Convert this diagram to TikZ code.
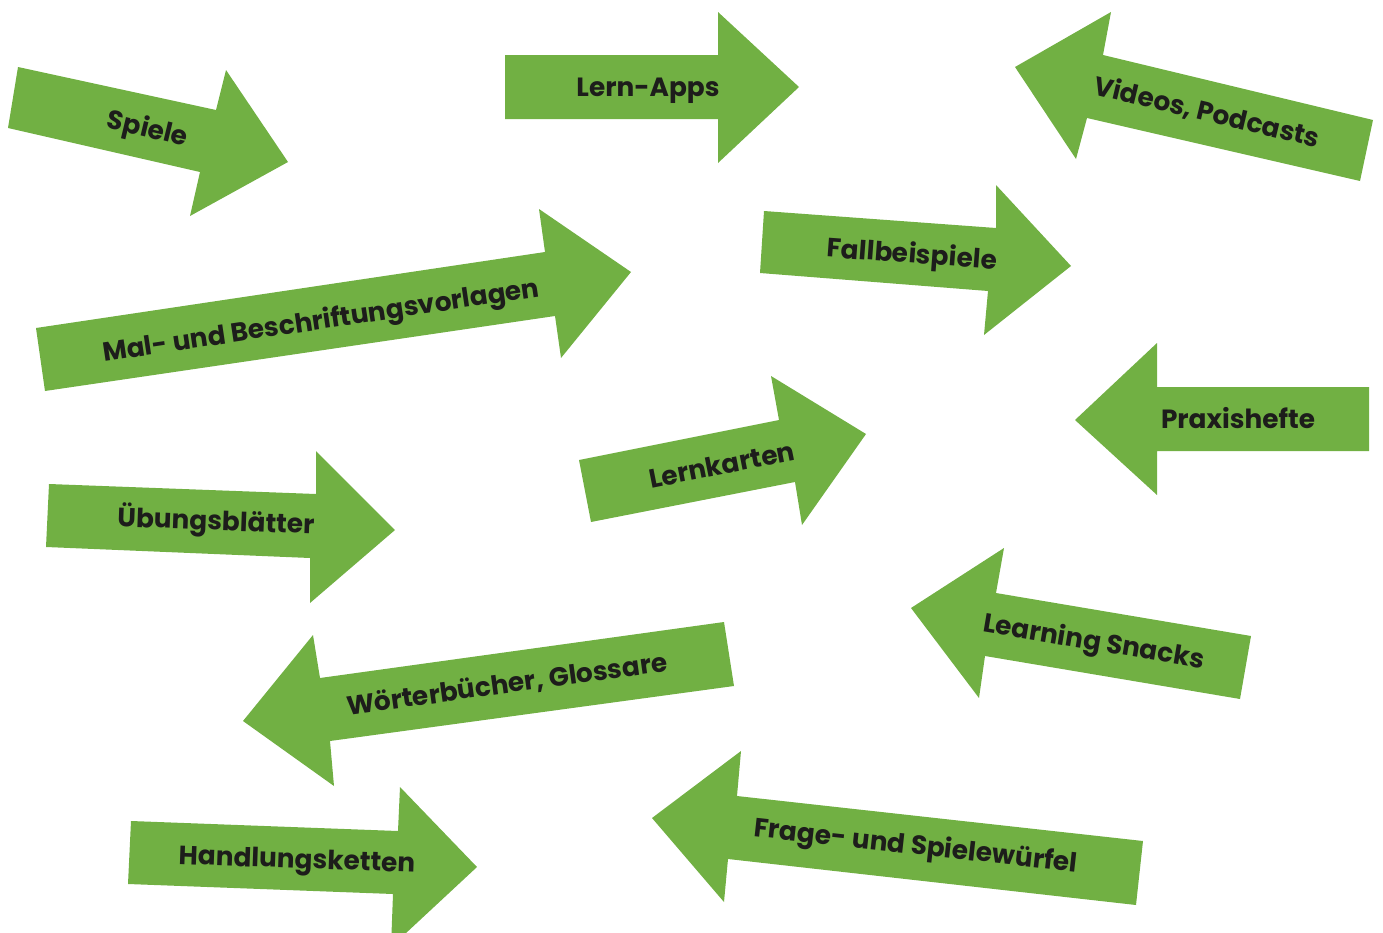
\documentclass[tikz,border=0pt]{standalone}
\usepackage{fontspec}
\newfontfamily\labfont{Poppins}
\definecolor{arrowgreen}{HTML}{71B043}
\definecolor{labelink}{HTML}{1D1D1B}
\begin{document}
\begin{tikzpicture}[x=0.02cm,y=-0.02cm,
  arrowshape/.style={fill=arrowgreen},
  lab/.style={text=labelink,font=\labfont\bfseries\fontsize{15}{17}\selectfont,inner sep=0pt,anchor=center,text height=10.5pt,text depth=0pt}]
\useasboundingbox (0,0) rectangle (1383,933);
\clip (0,0) rectangle (1383,933);
% Spiele
\fill[arrowshape] (18,67) -- (216,110) -- (226,70) -- (288,162) -- (190,216) -- (200,172) -- (8,128) -- cycle;
\node[lab,rotate=-13.5] (spiele) at (148,128) {Spiele};
% Lern-Apps
\fill[arrowshape] (505,55) -- (718,55) -- (718,12) -- (799,87) -- (718,163) -- (718,119) -- (505,119) -- cycle;
\node[lab] (lernapps) at (648,87) {Lern-Apps};
% Videos, Podcasts
\fill[arrowshape] (1015,67) -- (1111,12) -- (1103,55) -- (1373,120) -- (1360,181) -- (1087,118) -- (1076,159) -- cycle;
\node[lab,rotate=-13.5] (videos) at (1207,112) {Videos, Podcasts};
% Mal- und Beschriftungsvorlagen
\fill[arrowshape] (36,328) -- (545,252) -- (539,209) -- (631,272) -- (561,358) -- (555,316) -- (45,391) -- cycle;
\node[lab,rotate=8.5] (mal) at (321,320) {Mal- und Beschriftungsvorlagen};
% Fallbeispiele
\fill[arrowshape] (764,211) -- (996,228) -- (996,185) -- (1071,266) -- (984,335) -- (988,291) -- (760,273) -- cycle;
\node[lab,rotate=-4.2] (fall) at (912,254) {Fallbeispiele};
% Praxishefte
\fill[arrowshape] (1075,420) -- (1157,343) -- (1157,387) -- (1369,387) -- (1369,451) -- (1157,451) -- (1157,495) -- cycle;
\node[lab] (praxis) at (1238,419) {Praxishefte};
% Lernkarten
\fill[arrowshape] (579,460) -- (779,420) -- (771,376) -- (866,434) -- (802,525) -- (795,482) -- (591,522) -- cycle;
\node[lab,rotate=11.3] (lernkarten) at (722,465) {Lernkarten};
% Uebungsblaetter
\fill[arrowshape] (49,484) -- (316,494) -- (316,451) -- (395,530) -- (310,603) -- (310,558) -- (46,547) -- cycle;
\node[lab,rotate=-2.1] (uebung) at (216,521) {Übungsblätter};
% Learning Snacks
\fill[arrowshape] (911,608) -- (1004,548) -- (996,593) -- (1251,636) -- (1240,699) -- (985,656) -- (979,698) -- cycle;
\node[lab,rotate=-9.6] (snacks) at (1094,641) {Learning Snacks};
% Woerterbuecher, Glossare
\fill[arrowshape] (243,721) -- (313,635) -- (320,678) -- (724,622) -- (734,686) -- (330,741) -- (334,786) -- cycle;
\node[lab,rotate=7.9] (woerter) at (507,684) {Wörterbücher, Glossare};
% Handlungsketten
\fill[arrowshape] (131,821) -- (398,831) -- (400,787) -- (477,867) -- (391,947) -- (393,894) -- (128,884) -- cycle;
\node[lab,rotate=-2] (handlung) at (297,859) {Handlungsketten};
% Frage- und Spielewuerfel
\fill[arrowshape] (652,818) -- (741,751) -- (737,796) -- (1143,841) -- (1136,905) -- (728,859) -- (724,902) -- cycle;
\node[lab,rotate=-6.3] (frage) at (916,845) {Frage- und Spielewürfel};
\end{tikzpicture}
\end{document}
